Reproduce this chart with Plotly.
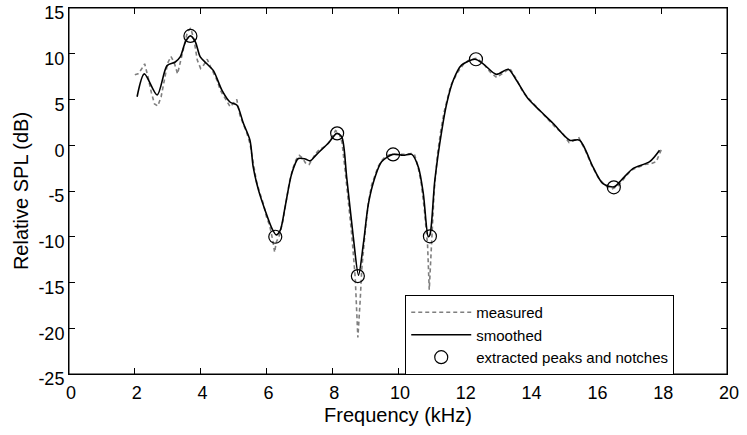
import plotly.graph_objects as go

# Smoothed response
freq_smooth = [2.07, 2.29, 2.68, 2.98, 3.23, 3.38, 3.54, 3.69, 3.84, 3.99, 4.19, 4.39, 4.65, 4.9, 5.1,
               5.3, 5.5, 5.6, 5.76, 5.96, 6.17, 6.3, 6.42, 6.57, 6.77, 6.97, 7.18, 7.33, 7.5, 7.7,
               7.9, 8.05, 8.14, 8.29, 8.44, 8.64, 8.8, 8.95, 9.1, 9.3, 9.5, 9.84, 10.16, 10.42, 10.62,
               10.77, 10.92, 10.97, 11.12, 11.33, 11.48, 11.68, 11.93, 12.34, 12.59, 12.99, 13.35,
               13.6, 13.95, 14.31, 14.71, 15.22, 15.52, 15.93, 16.23, 16.57, 16.79, 17.14, 17.65, 17.95]
spl_smooth = [5.3, 7.8, 5.5, 8.7, 9.1, 9.65, 11.3, 11.95, 11.3, 9.65, 8.9, 8.15, 6.0, 4.7, 4.4,
              2.4, 0.55, -2.4, -4.9, -7.1, -9.1, -9.8, -9.3, -6.7, -3.1, -1.45, -1.5, -1.7, -1.1, -0.4,
              0.3, 1.0, 1.3, 0.9, -3.5, -10.0, -14.2, -10.7, -6.4, -3.5, -1.8, -1.0, -1.1, -1.0, -2.4,
              -5.3, -10.0, -9.8, -3.8, 1.6, 4.55, 7.1, 8.75, 9.4, 8.9, 7.75, 8.3,
              7.1, 5.1, 3.8, 2.4, 0.55, 0.55, -2.4, -4.2, -4.55, -3.8, -2.55, -1.8, -0.55]

# Measured response
freq_meas = [2.0, 2.1, 2.2, 2.3, 2.4, 2.5, 2.6, 2.7, 2.8, 2.9, 3.0, 3.1, 3.2, 3.3, 3.4, 3.5, 3.6,
             3.7, 3.8, 3.9, 4.0, 4.1, 4.2, 4.3, 4.4, 4.5, 4.6, 4.7, 4.8, 4.9, 5.0, 5.1, 5.2, 5.3,
             5.4, 5.5, 5.6, 5.7, 5.8, 5.9, 6.0, 6.1, 6.2, 6.25, 6.3, 6.4, 6.5, 6.6, 6.7, 6.8, 6.9,
             7.0, 7.1, 7.2, 7.3, 7.4, 7.5, 7.6, 7.7, 7.8, 7.9, 8.0, 8.1, 8.2, 8.3, 8.4, 8.5, 8.6,
             8.7, 8.78, 8.85, 8.9, 9.0, 9.1, 9.2, 9.3, 9.4, 9.5, 9.6, 9.7, 9.8, 10.0, 10.2, 10.4,
             10.5, 10.6, 10.7, 10.8, 10.9, 10.95, 11.0, 11.1, 11.2, 11.3, 11.4, 11.5, 11.6, 11.8,
             12.0, 12.2, 12.4, 12.6, 12.8, 13.0, 13.2, 13.4, 13.6, 13.8, 14.0, 14.2, 14.4, 14.6,
             14.8, 15.0, 15.2, 15.4, 15.5, 15.7, 15.9, 16.1, 16.3, 16.5, 16.7, 16.9, 17.1, 17.3,
             17.5, 17.7, 17.85, 18.0]
spl_meas = [7.7, 7.8, 8.3, 8.9, 7.5, 5.8, 4.5, 4.3, 5.3, 7.2, 9.0, 9.7, 9.0, 7.8, 9.4, 11.0, 12.4,
            12.8, 11.5, 9.3, 8.4, 8.8, 9.4, 8.6, 7.9, 7.1, 6.0, 5.4, 4.9, 4.2, 4.6, 5.0, 3.2, 2.3,
            1.4, 0.2, -2.0, -4.0, -5.2, -6.3, -7.8, -8.8, -10.5, -11.7, -10.6, -9.8, -8.3, -6.0,
            -4.0, -2.6, -1.6, -1.1, -1.4, -2.0, -2.1, -1.5, -0.9, -0.5, -0.3, -0.1, 0.3, 0.9, 1.6,
            1.4, 0.3, -3.0, -6.5, -10.0, -14.5, -21.0, -17.0, -13.5, -9.5, -6.3, -4.3, -3.2, -2.3,
            -1.7, -1.3, -1.1, -1.0, -1.0, -1.0, -0.9, -1.0, -2.2, -4.0, -7.0, -11.0, -15.8, -12.0,
            -5.0, -1.0, 1.6, 3.6, 4.9, 6.5, 7.9, 8.9, 9.4, 9.5, 8.9, 8.0, 7.4, 7.9, 8.4, 7.2, 5.8,
            5.0, 4.2, 3.5, 2.7, 1.9, 1.3, 0.3, 0.6, 0.8, -0.6, -2.3, -3.6, -4.4, -4.8, -4.4, -3.5,
            -2.7, -2.4, -2.1, -2.0, -1.8, -0.5]

# Extracted peaks and notches
freq_peaks = [3.69, 6.27, 8.15, 8.78, 9.85, 10.97, 12.37, 16.56]
spl_peaks = [11.95, -10.0, 1.3, -14.3, -1.0, -9.95, 9.4, -4.6]

x_ticks = [0, 2, 4, 6, 8, 10, 12, 14, 16, 18, 20]
y_ticks = [-25, -20, -15, -10, -5, 0, 5, 10, 15]

font_family = "Liberation Sans, Arial, Helvetica, sans-serif"

fig = go.Figure()
fig.add_trace(go.Scatter(x=freq_meas, y=spl_meas, mode="lines", name="measured",
                         line=dict(color="#7f7f7f", width=1.6, dash="4px,3px")))
fig.add_trace(go.Scatter(x=freq_smooth, y=spl_smooth, mode="lines", name="smoothed",
                         line=dict(color="black", width=1.6, shape="spline", smoothing=0.8)))
fig.add_trace(go.Scatter(x=freq_peaks, y=spl_peaks, mode="markers",
                         name="extracted peaks and notches",
                         marker=dict(symbol="circle-open", size=13, color="black",
                                     line=dict(width=1.2, color="black"))))

axis_common = dict(showgrid=False, zeroline=False, showline=True, linecolor="black",
                   linewidth=1, mirror="ticks", ticks="inside", ticklen=6,
                   tickcolor="black", tickwidth=1, ticklabeloverflow="allow",
                   automargin=False,
                   tickfont=dict(family=font_family, size=18, color="black"))

fig.update_xaxes(range=[0, 20], tickvals=x_ticks, ticktext=[str(v) for v in x_ticks],
                 ticklabelshift=2, ticklabelstandoff=2,
                 title=dict(text="Frequency (kHz)", font=dict(family=font_family, size=20, color="black"),
                            standoff=6),
                 **axis_common)
fig.update_yaxes(range=[-25, 15], tickvals=y_ticks, ticktext=[str(v) for v in y_ticks],
                 ticklabelshift=5, ticklabelstandoff=0,
                 title=dict(text="Relative SPL (dB)", font=dict(family=font_family, size=20, color="black"),
                            standoff=4),
                 **axis_common)

# Axes box frame (MATLAB style)
fig.add_shape(type="rect", xref="x domain", yref="y domain", x0=0, x1=1, y0=0, y1=1,
              line=dict(color="black", width=1), fillcolor="rgba(0,0,0,0)", layer="above")

fig.update_layout(
    width=747, height=435,
    margin=dict(l=69, r=20, t=8, b=61),
    plot_bgcolor="white", paper_bgcolor="white",
    font=dict(family=font_family, color="black"),
    legend=dict(x=0.511, y=0.216, xanchor="left", yanchor="top",
                bgcolor="white", bordercolor="black", borderwidth=1,
                font=dict(family=font_family, size=15, color="black"),
                tracegroupgap=0, itemwidth=60),
    showlegend=True,
)

fig.write_html("out.html")
